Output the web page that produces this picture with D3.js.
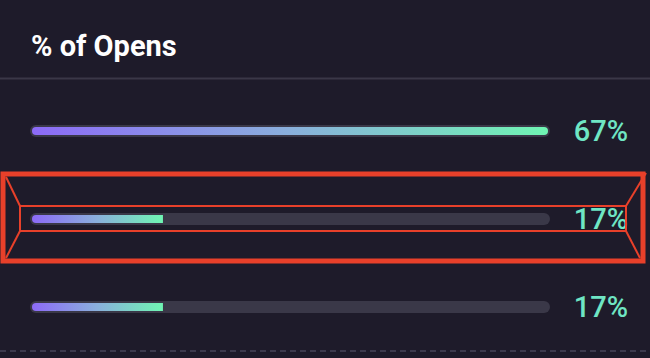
<!DOCTYPE html>
<html>
<head>
<meta charset="utf-8">
<script src="https://cdn.jsdelivr.net/npm/d3@7"></script>
<style>
  html, body { margin: 0; padding: 0; background: #1e1b2a; }
  svg { display: block; }
</style>
</head>
<body>
<svg id="chart" width="650" height="358"></svg>
<script>
const title = "% of Opens";
const categories = ["Row 1", "Row 2", "Row 3"];
const values = [67, 17, 17];
const valueLabels = ["67%", "17%", "17%"];
const highlighted = ["Row 2"];

const W = 650, H = 358;
const svg = d3.select("#chart");

svg.append("rect").attr("width", W).attr("height", H).attr("fill", "#1e1b2a");

// gradient
const defs = svg.append("defs");
const grad = defs.append("linearGradient").attr("id", "barGrad")
  .attr("x1", "0%").attr("x2", "100%").attr("y1", "0%").attr("y2", "0%");
grad.append("stop").attr("offset", "0%").attr("stop-color", "#8c6af7");
grad.append("stop").attr("offset", "50%").attr("stop-color", "#8ab0dc");
grad.append("stop").attr("offset", "100%").attr("stop-color", "#6ff5b3");

// title
svg.append("text").attr("x", 31).attr("y", 56)
  .attr("font-family", "Roboto, 'Open Sans', sans-serif")
  .attr("font-weight", 700).attr("font-size", 29)
  .attr("fill", "#ffffff").text(title);

// separator
svg.append("line").attr("x1", 0).attr("x2", W).attr("y1", 78.5).attr("y2", 78.5)
  .attr("stroke", "#3a3747").attr("stroke-width", 2);

// dashed bottom line
svg.append("line").attr("x1", 0).attr("x2", W).attr("y1", 351).attr("y2", 351)
  .attr("stroke", "#3d3a4d").attr("stroke-width", 2).attr("stroke-dasharray", "6,4");

const y = d3.scaleBand().domain(categories).range([87, 351]).padding(0);
const trackX0 = 30, trackX1 = 550;
const fillX0 = 32, fillX1 = 548;
const x = d3.scaleLinear().domain([0, d3.max(values)]).range([fillX0, fillX1]);

const rows = categories.map((c, i) => ({ c, v: values[i], lbl: valueLabels[i] }));

const g = svg.selectAll("g.row").data(rows).join("g").attr("class", "row")
  .attr("transform", d => `translate(0,${y(d.c) + y.bandwidth() / 2})`);

// track
g.append("rect").attr("x", trackX0).attr("y", -6)
  .attr("width", trackX1 - trackX0).attr("height", 12).attr("rx", 6)
  .attr("fill", "#3a3848");

// fill
function fillPath(d) {
  const x0 = x(0), x1 = x(d.v), r = 4, h = 8, t = -4;
  const full = d.v >= d3.max(values);
  const p = d3.path();
  p.moveTo(x0 + r, t);
  if (full) {
    p.lineTo(x1 - r, t);
    p.arc(x1 - r, 0, r, -Math.PI / 2, Math.PI / 2);
  } else {
    p.lineTo(x1, t);
    p.lineTo(x1, t + h);
  }
  p.lineTo(x0 + r, t + h);
  p.arc(x0 + r, 0, r, Math.PI / 2, Math.PI * 1.5);
  p.closePath();
  return p.toString();
}
g.append("path").attr("d", fillPath).attr("fill", "url(#barGrad)");

// value labels
g.append("text").attr("x", 628).attr("y", 0).attr("dy", "0.36em")
  .attr("text-anchor", "end")
  .attr("font-family", "Roboto, 'Open Sans', sans-serif")
  .attr("font-weight", 500).attr("font-size", 29)
  .attr("fill", "#6fe6c4").text(d => d.lbl);

// highlight annotation
const red = "#e8402a";
highlighted.forEach(c => {
  const oy0 = y(c), oy1 = y(c) + y.bandwidth();
  const cy = y(c) + y.bandwidth() / 2;
  const o = { x0: 3, x1: 643, y0: oy0 - 1, y1: oy1 - 2 };
  const inn = { x0: 20, x1: 626, y0: cy - 13, y1: cy + 12 };
  const a = svg.append("g");
  a.append("rect").attr("x", o.x0).attr("y", o.y0)
    .attr("width", o.x1 - o.x0).attr("height", o.y1 - o.y0)
    .attr("fill", "none").attr("stroke", red).attr("stroke-width", 5);
  a.append("rect").attr("x", inn.x0).attr("y", inn.y0)
    .attr("width", inn.x1 - inn.x0).attr("height", inn.y1 - inn.y0)
    .attr("fill", "none").attr("stroke", red).attr("stroke-width", 2);
  const lines = [
    [o.x0 + 3, o.y0 + 3, inn.x0, inn.y0],
    [o.x0 + 3, o.y1 - 3, inn.x0, inn.y1],
    [o.x1 + 3, o.y0 - 1, inn.x1, inn.y0],
    [o.x1 - 3, o.y1 - 3, inn.x1, inn.y1]
  ];
  a.selectAll("line").data(lines).join("line")
    .attr("x1", d => d[0]).attr("y1", d => d[1])
    .attr("x2", d => d[2]).attr("y2", d => d[3])
    .attr("stroke", red).attr("stroke-width", 2);
});
</script>
</body>
</html>
